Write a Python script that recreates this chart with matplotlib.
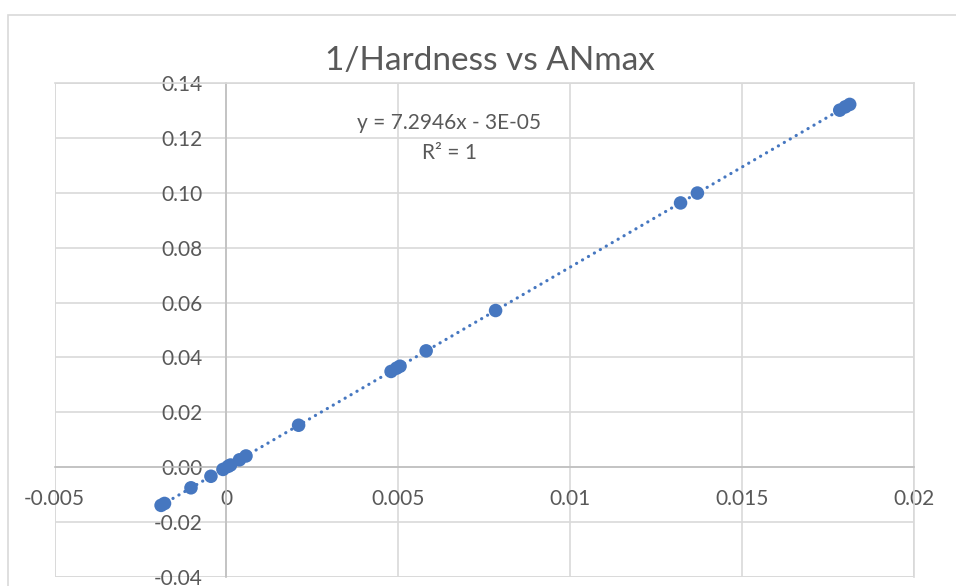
import numpy as np
import matplotlib
matplotlib.use("Agg")
import matplotlib.pyplot as plt
from matplotlib.patches import Rectangle

plt.rcParams['font.family'] = ['Lato', 'DejaVu Sans']

# ANmax (x) and 1/Hardness (y) measurements
an_max = [-0.00190, -0.00180, -0.00103, -0.00045, -0.00010, 0.00005, 0.00012,
          0.00038, 0.00057, 0.00210, 0.00479, 0.00495, 0.00505, 0.00581,
          0.00783, 0.01321, 0.01370, 0.01784, 0.01800, 0.01813]
inv_hardness = [-0.0139, -0.0132, -0.0075, -0.0033, -0.0008, 0.0003, 0.0008,
                0.0027, 0.0041, 0.0153, 0.0349, 0.0361, 0.0368, 0.0424,
                0.0571, 0.0963, 0.0999, 0.1301, 0.1313, 0.1322]

# linear trendline coefficients
slope = 7.2946
intercept = -3e-05
r_squared = 1

x_ticks = [-0.005, 0, 0.005, 0.01, 0.015, 0.02]
x_tick_labels = ["-0.005", "0", "0.005", "0.01", "0.015", "0.02"]
y_ticks = [-0.04, -0.02, 0.00, 0.02, 0.04, 0.06, 0.08, 0.10, 0.12, 0.14]

blue = '#4677c0'
grid = '#d9d9d9'
axis_col = '#bfbfbf'
text_col = '#595959'

fig = plt.figure(figsize=(9.56, 5.86), dpi=100)
fig.patch.set_facecolor('white')

# chart frame
fig.patches.append(Rectangle((8 / 956, -0.2), 1.2, (586 - 15) / 586 + 0.2,
                             transform=fig.transFigure, fill=False,
                             edgecolor=grid, linewidth=1.2))

ax = fig.add_axes([54.5 / 956, 9 / 586, 859.5 / 956, 494 / 586])
ax.set_xlim(-0.005, 0.02)
ax.set_ylim(-0.04, 0.14)
ax.set_xticks(x_ticks)
ax.set_xticklabels(x_tick_labels)
ax.set_yticks(y_ticks)
ax.set_yticklabels([f"{v:.2f}" for v in y_ticks])

ax.grid(True, color=grid, linewidth=1.2)
ax.set_axisbelow(True)
for side in ['top', 'right']:
    ax.spines[side].set_color(grid)
    ax.spines[side].set_linewidth(1.2)
ax.spines['left'].set_position(('data', 0))
ax.spines['bottom'].set_position(('data', 0))
ax.spines['left'].set_color(axis_col)
ax.spines['bottom'].set_color(axis_col)
ax.spines['left'].set_linewidth(1.2)
ax.spines['bottom'].set_linewidth(1.2)
ax.add_patch(Rectangle((0, 0), 1, 1, transform=ax.transAxes, fill=False,
                       edgecolor=grid, linewidth=1.2, zorder=0.5))

ax.tick_params(axis='both', length=0, labelsize=15, labelcolor=text_col)
ax.tick_params(axis='y', pad=17)
ax.tick_params(axis='x', pad=16)

# trendline over the data range
xs = np.linspace(min(an_max), max(an_max), 200)
ax.plot(xs, slope * xs + intercept, color=blue, linewidth=2.3,
        linestyle=(0, (0.05, 2.1)), dash_capstyle='round', zorder=3)

ax.scatter(an_max, inv_hardness, s=95, color=blue, edgecolors='none', zorder=4)

ax.text(0.459, 0.919, f"y = {slope}x - 3E-05", transform=ax.transAxes,
        ha='center', va='center', fontsize=15, color=text_col)
ax.text(0.459, 0.858, f"R² = {r_squared}", transform=ax.transAxes,
        ha='center', va='center', fontsize=15, color=text_col)

fig.text(490 / 956, (586 - 61) / 586, "1/Hardness vs ANmax", ha='center',
         va='center', fontsize=24, color=text_col)

fig.savefig("out.png", dpi=100)
